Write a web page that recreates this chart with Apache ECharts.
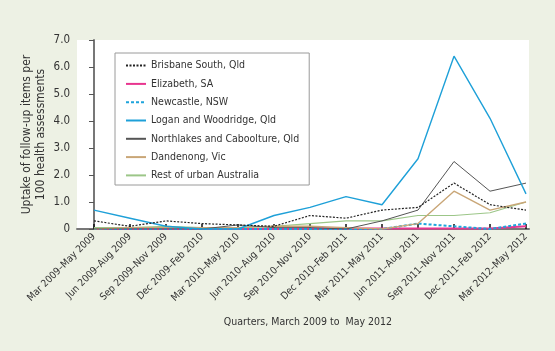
<!DOCTYPE html>
<html><head><meta charset="utf-8">
<script src="https://cdn.jsdelivr.net/npm/echarts@6/dist/echarts.min.js"></script>
<style>html,body{margin:0;padding:0;background:#edf1e4;}#c{width:555px;height:351px;}</style>
</head><body><div id="c"></div>
<script>
var categories = ["Mar 2009–May 2009","Jun 2009–Aug 2009","Sep 2009–Nov 2009","Dec 2009–Feb 2010","Mar 2010–May 2010","Jun 2010–Aug 2010","Sep 2010–Nov 2010","Dec 2010–Feb 2011","Mar 2011–May 2011","Jun 2011–Aug 2011","Sep 2011–Nov 2011","Dec 2011–Feb 2012","Mar 2012–May 2012"];
var yTickLabels = ["0","1.0","2.0","3.0","4.0","5.0","6.0","7.0"];
var brisbaneSouth = [0.3,0.1,0.3,0.2,0.15,0.1,0.5,0.4,0.7,0.8,1.7,0.9,0.7];
var elizabeth = [0,0,0,0,0,0,0.02,0.02,0.02,0.02,0.02,0.02,0.1];
var newcastle = [0,0,0,0,0,0,0,0,0,0.2,0.1,0,0.2];
var logan = [0.7,0.4,0.1,0.0,0.0,0.5,0.8,1.2,0.9,2.6,6.4,4.1,1.3];
var northlakes = [0,0,0,0,0.15,0.05,0.05,0,0.3,0.7,2.5,1.4,1.7];
var dandenong = [0,0.05,0.05,0.05,0.05,0.1,0.1,0.05,0,0.2,1.4,0.7,1.0];
var restUrban = [0.05,0.05,0.1,0.05,0.05,0.1,0.2,0.3,0.3,0.5,0.5,0.6,1.0];

var seriesDefs = [
  {name:"Brisbane South, Qld", data:brisbaneSouth, color:"#222222", width:1.2, type:[2,1.5], z:7},
  {name:"Elizabeth, SA", data:elizabeth, color:"#e8358f", width:2, type:"solid", z:3},
  {name:"Newcastle, NSW", data:newcastle, color:"#1ea4dc", width:2, type:[3,2], z:4},
  {name:"Logan and Woodridge, Qld", data:logan, color:"#1ea0d8", width:1.4, type:"solid", z:6},
  {name:"Northlakes and Caboolture, Qld", data:northlakes, color:"#555555", width:1, type:"solid", z:5},
  {name:"Dandenong, Vic", data:dandenong, color:"#c9a677", width:1.4, type:"solid", z:4},
  {name:"Rest of urban Australia", data:restUrban, color:"#9cc688", width:1.1, type:"solid", z:3}
];
var idx = categories.map(function(_, i){return i;});
var FONT = "'DejaVu Sans Condensed', sans-serif";

var chart = echarts.init(document.getElementById('c'), null, {renderer:'canvas'});
chart.setOption({
  backgroundColor:'#edf1e4',
  animation:false,
  textStyle:{fontFamily:FONT},
  grid:{left:77, right:26, top:40, bottom:122, show:true, backgroundColor:'#ffffff', borderWidth:0},
  legend:{
    orient:'vertical', left:115, top:53,
    backgroundColor:'#ffffff', borderColor:'#9a9a9a', borderWidth:1,
    padding:[7,10,4,10], itemWidth:20, itemHeight:14, itemGap:7.1,
    itemStyle:{opacity:0},
    textStyle:{fontFamily:FONT, fontSize:10.5, color:'#333'},
    data: seriesDefs.map(function(s){return s.name;})
  },
  xAxis:{
    type:'value', min:-0.472, max:12.083,
    name:'Quarters, March 2009 to  May 2012', nameLocation:'middle', nameGap:88,
    nameTextStyle:{fontFamily:FONT, fontSize:10.5, color:'#333', padding:[0,0,0,10]},
    axisLine:{show:true, lineStyle:{color:'#777', width:2}},
    axisTick:{show:true, inside:true, length:5, customValues:idx, lineStyle:{color:'#111', width:1.5}},
    axisLabel:{show:true, customValues:idx, rotate:45, fontSize:10, color:'#333', margin:6,
      formatter:function(v){return categories[Math.round(v)];}},
    splitLine:{show:false}
  },
  yAxis:{
    type:'value', min:0, max:7, interval:1,
    name:'Uptake of follow-up items per\n100 health assessments', nameLocation:'middle', nameGap:29, nameRotate:90,
    nameMoveOverlap:false,
    nameTextStyle:{fontFamily:FONT, fontSize:12, color:'#333', lineHeight:14},
    axisLine:{show:true, lineStyle:{color:'#777', width:2}},
    axisTick:{show:true, length:5, lineStyle:{color:'#555', width:1}},
    axisLabel:{fontSize:11.5, color:'#333', margin:7, formatter:function(v){return yTickLabels[Math.round(v)];}},
    splitLine:{show:false}
  },
  series: seriesDefs.map(function(s){
    return {name:s.name, type:'line', showSymbol:false, symbol:'none', z:s.z,
      data: s.data.map(function(v,i){return [i, v];}),
      itemStyle:{color:s.color},
      lineStyle:{color:s.color, width:s.width, type:s.type}};
  })
});
</script></body></html>
